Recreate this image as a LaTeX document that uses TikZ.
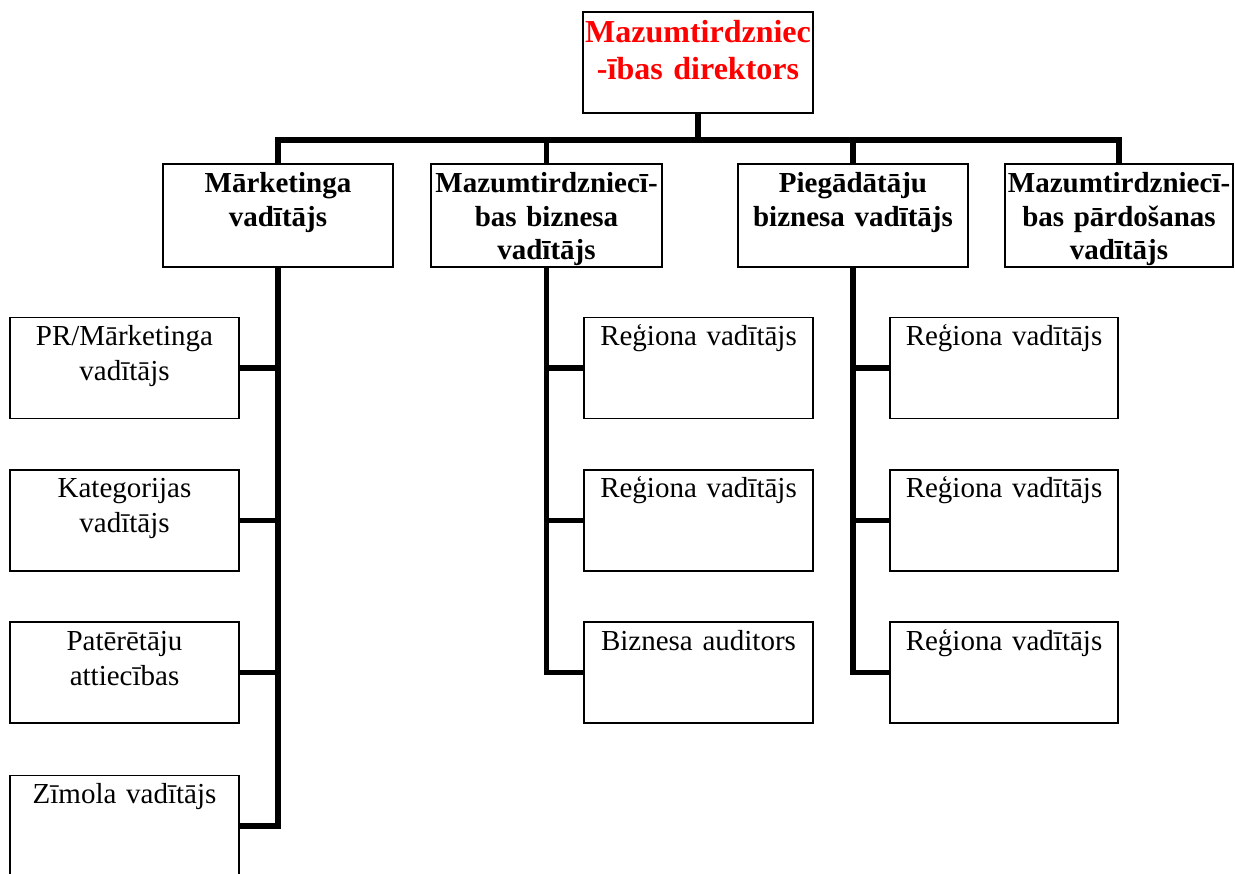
\documentclass[tikz,border=0pt]{standalone}
\usepackage{fontspec}
\setmainfont{Liberation Serif}
\begin{document}
\begin{tikzpicture}[x=1pt, y=-1pt,
  box/.style={draw=black, line width=1.6pt, fill=white, inner sep=0pt, align=center,
    text width=#1pt, minimum width=#1pt},
  plain/.style={box=#1, font=\fontsize{29}{35}\selectfont, text height=28pt, text depth=73pt},
  head/.style={box=#1, font=\fontsize{29}{33.5}\selectfont\bfseries, text height=29pt, text depth=74pt},
  top/.style={box=#1, font=\fontsize{32}{37}\selectfont\bfseries, text=red, text height=31pt, text depth=70pt},
  conn/.style={line width=5.6pt, line join=miter, line cap=butt}]
\useasboundingbox (0,0) rectangle (1235,874);

% director
\node[top=230] (dir) at (698,62.5) {Mazumtirdzniec\\-ības direktors};

% second level
\node[head=230] (m1) at (278,215.5) {Mārketinga\\vadītājs};
\node[head=231] (m2) at (546.5,215.5) {Mazumtirdzniecī-\\bas biznesa\\vadītājs};
\node[head=230] (m3) at (853,215.5) {Piegādātāju\\biznesa vadītājs};
\node[head=228] (m4) at (1119,215.5) {Mazumtirdzniecī-\\bas pārdošanas\\vadītājs};

% marketing column
\node[plain=229] (l1) at (124.5,368) {PR/Mārketinga\\vadītājs};
\node[plain=229] (l2) at (124.5,520.5) {Kategorijas\\vadītājs};
\node[plain=229] (l3) at (124.5,672.5) {Patērētāju\\attiecības};
\node[plain=229] (l4) at (124.5,826) {Zīmola vadītājs};

% retail business column
\node[plain=229] (c1) at (698.5,368) {Reģiona vadītājs};
\node[plain=229] (c2) at (698.5,520.5) {Reģiona vadītājs};
\node[plain=229] (c3) at (698.5,672.5) {Biznesa auditors};

% supplier business column
\node[plain=228] (r1) at (1004,368) {Reģiona vadītājs};
\node[plain=228] (r2) at (1004,520.5) {Reģiona vadītājs};
\node[plain=228] (r3) at (1004,672.5) {Reģiona vadītājs};

% connectors
\coordinate (bus) at (698,140);
\draw[conn] (dir.south) -- (bus);
\draw[conn] (m1.north) |- (bus) -| (m4.north);
\draw[conn] (m2.north) -- (m2.north |- bus);
\draw[conn] (m3.north) -- (m3.north |- bus);

\draw[conn] (m1.south) |- (l4.east);
\draw[conn] (l1.east) -- (l1.east -| m1.south);
\draw[conn] (l2.east) -- (l2.east -| m1.south);
\draw[conn] (l3.east) -- (l3.east -| m1.south);

\draw[conn] (m2.south) |- (c3.west);
\draw[conn] (c1.west) -- (c1.west -| m2.south);
\draw[conn] (c2.west) -- (c2.west -| m2.south);

\draw[conn] (m3.south) |- (r3.west);
\draw[conn] (r1.west) -- (r1.west -| m3.south);
\draw[conn] (r2.west) -- (r2.west -| m3.south);
\end{tikzpicture}
\end{document}
